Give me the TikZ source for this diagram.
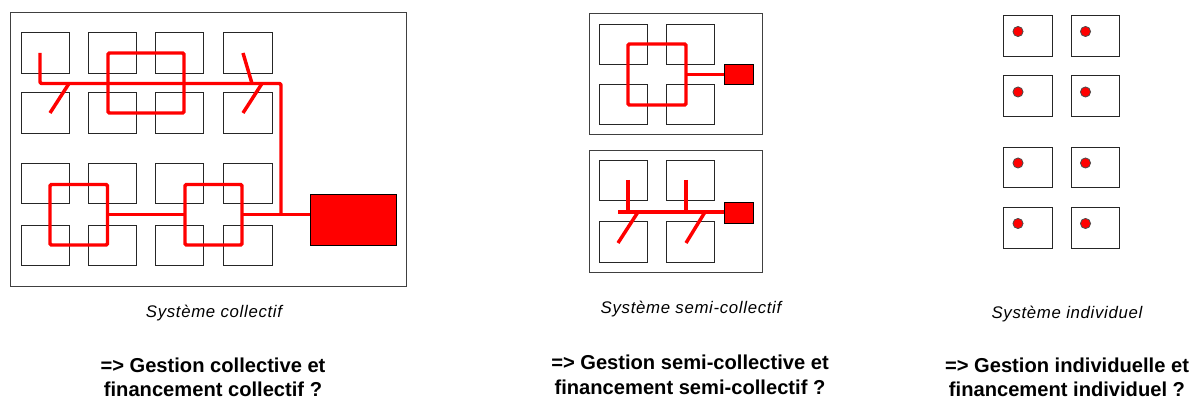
\documentclass[tikz,border=0pt]{standalone}
\usepackage{fontspec}
\setmainfont{Liberation Sans}
\newfontfamily\capfont[LetterSpace=4]{Liberation Sans}
\newcommand{\bx}[6][hs]{\node[#1,minimum width={(#5-#3)*0.75pt},minimum height={(#6-#4)*0.75pt}] (#2) at ({(#3+#5)/2},{(#4+#6)/2}) {};}
\begin{document}
\begin{tikzpicture}[x=0.75pt,y=-0.75pt,
  hs/.style={draw=black!85,line width=0.75pt,fill=none,inner sep=0pt,outer sep=0pt},
  frm/.style={draw=black!75,line width=0.75pt,inner sep=0pt,outer sep=0pt},
  boiler/.style={draw=black,fill=red,line width=0.75pt,inner sep=0pt,outer sep=0pt},
  loopb/.style={draw=red,line width=2.6pt,rounded corners=1pt,inner sep=0pt,outer sep=0pt},
  pipe/.style={draw=red,line width=2.6pt,line join=round},
  reddot/.style={circle,draw=black!70,fill=red,line width=0.6pt,minimum size=7.6pt,inner sep=0pt,outer sep=0pt},
  captxt/.style={font=\capfont\fontsize{12.6pt}{14pt}\selectfont\itshape,inner sep=0pt,text=black},
  concl/.style={font=\fontsize{15.1pt}{18.4pt}\selectfont\bfseries,inner sep=0pt,align=center,text=black}]
\useasboundingbox (0,0) rectangle (1192,399);
% Systeme collectif
\bx[frm]{fA}{10.5}{13}{406.5}{286}
\bx{a1}{21}{33}{69}{74}\bx{a2}{88}{33}{136}{74}\bx{a3}{155.5}{33}{203.5}{74}\bx{a4}{223}{33}{272}{74}
\bx{a5}{21}{93}{69}{134}\bx{a6}{88}{93}{136}{134}\bx{a7}{155.5}{93}{203.5}{134}\bx{a8}{223}{93}{272}{134}
\bx{a9}{21}{164}{69}{204}\bx{a10}{88}{164}{136}{204}\bx{a11}{155.5}{164}{203.5}{204}\bx{a12}{223}{164}{272}{204}
\bx{a13}{21}{225}{69}{265}\bx{a14}{88}{225}{136}{265}\bx{a15}{155.5}{225}{203.5}{265}\bx{a16}{223}{225}{272}{265}
\bx[boiler]{bA}{310}{194.5}{396}{245}
\bx[loopb]{lA}{108}{53}{184}{113}
\bx[loopb]{lB}{50}{184.5}{107.5}{245}
\bx[loopb]{lC}{185}{184.5}{242}{245}
\coordinate (s1) at (40,53);
\coordinate (s2) at (40,83.5);
\coordinate (s3) at (281,83.5);
\coordinate (s4) at (281,214.5);
\coordinate (d1a) at (69,83.5);\coordinate (d1b) at (50,113);
\coordinate (d2a) at (243,53);\coordinate (d2b) at (252,83.5);
\coordinate (d3a) at (262,83.5);\coordinate (d3b) at (243,113);
\draw[pipe,rounded corners=1pt] (s1) -- (s2) -- (s3) -- (s4);
\draw[pipe] (d1a) -- (d1b);
\draw[pipe] (d2a) -- (d2b);
\draw[pipe] (d3a) -- (d3b);
\draw[pipe] (lB.east) -- (lC.west);
\draw[pipe] (lC.east) -- (bA.west |- lC.east);
% Semi-collectif haut
\bx[frm]{fB}{589}{14}{762.5}{135}
\bx{b1}{599}{24.5}{647}{65}\bx{b2}{666.5}{24.5}{714.5}{65}
\bx{b3}{599}{84.5}{647}{125}\bx{b4}{666.5}{84.5}{714.5}{125}
\bx[boiler]{bB}{724}{65}{753.5}{84.5}
\bx[loopb]{lD}{628}{44}{686}{105}
\draw[pipe] (lD.east) -- (bB.west |- lD.east);
% Semi-collectif bas
\bx[frm]{fC}{589}{151}{762.5}{272}
\bx{c1}{599}{161}{647}{200.5}\bx{c2}{666.5}{161}{714.5}{200.5}
\bx{c3}{599}{221}{647}{262}\bx{c4}{666.5}{221}{714.5}{262}
\bx[boiler]{bC}{724}{202.5}{753.5}{223}
\coordinate (m0) at (618,212);
\coordinate (m1) at (628,212);\coordinate (m1t) at (628,180);
\coordinate (m2) at (686,212);\coordinate (m2t) at (686,180);
\coordinate (m3) at (638,212);\coordinate (m3b) at (618,243);
\coordinate (m4) at (705,212);\coordinate (m4b) at (686,243);
\draw[pipe] (m0) -- (bC.west |- m0);
\draw[pipe] (m1t) -- (m1);
\draw[pipe] (m2t) -- (m2);
\draw[pipe] (m3) -- (m3b);
\draw[pipe] (m4) -- (m4b);
% Individuel
\bx{i1}{1003}{16}{1052.5}{57}\bx{i2}{1071.5}{16}{1119.5}{57}
\bx{i3}{1003}{76}{1052.5}{117}\bx{i4}{1071.5}{76}{1119.5}{117}
\bx{i5}{1003}{147.5}{1052.5}{188}\bx{i6}{1071.5}{147.5}{1119.5}{188}
\bx{i7}{1003}{207.5}{1052.5}{248}\bx{i8}{1071.5}{207.5}{1119.5}{248}
\node[reddot] (p1) at (1018,31.5) {};\node[reddot] (p2) at (1085.5,31.5) {};
\node[reddot] (p3) at (1018,92) {};\node[reddot] (p4) at (1085.5,92) {};
\node[reddot] (p5) at (1018,163) {};\node[reddot] (p6) at (1085.5,163) {};
\node[reddot] (p7) at (1018,223.5) {};\node[reddot] (p8) at (1085.5,223.5) {};
% Textes
\node[captxt] (t1) at (214,313) {Système collectif};
\node[captxt] (t2) at (691,309) {Système semi-collectif};
\node[captxt] (t3) at (1067,314) {Système individuel};
\node[concl] (g1) at (213,377.5) {=> Gestion collective et\\financement collectif ?};
\node[concl] (g2) at (690,375) {=> Gestion semi-collective et\\financement semi-collectif ?};
\node[concl] (g3) at (1067,377.5) {=> Gestion individuelle et\\financement individuel ?};
\end{tikzpicture}
\end{document}
